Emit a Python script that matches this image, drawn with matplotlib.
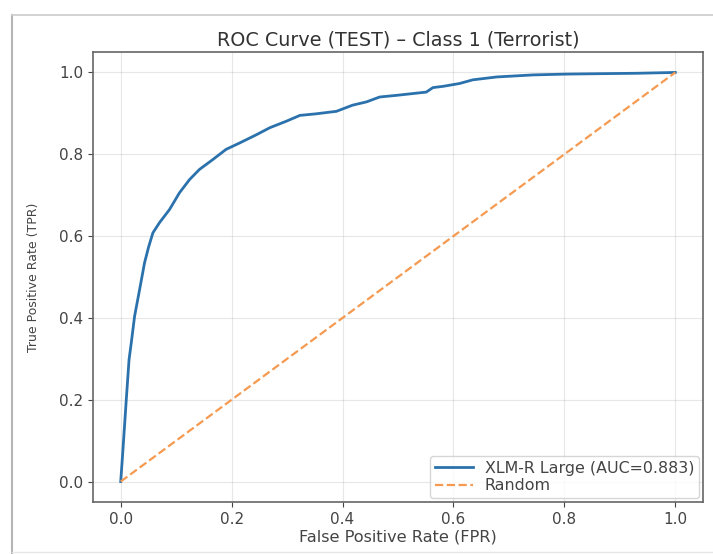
import matplotlib
matplotlib.use("Agg")
import matplotlib.pyplot as plt
from matplotlib.lines import Line2D

# ROC curve
fpr = [0.0, 0.004, 0.010, 0.015, 0.019, 0.025, 0.034, 0.043, 0.050, 0.058,
       0.070, 0.088, 0.106, 0.124, 0.142, 0.166, 0.190, 0.215, 0.245, 0.269,
       0.299, 0.323, 0.353, 0.389, 0.418, 0.443, 0.467, 0.497, 0.551, 0.563,
       0.581, 0.611, 0.635, 0.678, 0.744, 0.804, 0.864, 0.930, 1.0]
tpr = [0.0, 0.078, 0.200, 0.298, 0.339, 0.404, 0.469, 0.535, 0.572, 0.608,
       0.633, 0.665, 0.706, 0.738, 0.763, 0.787, 0.812, 0.828, 0.848, 0.865,
       0.881, 0.895, 0.899, 0.905, 0.920, 0.928, 0.940, 0.944, 0.952, 0.963,
       0.966, 0.973, 0.982, 0.989, 0.994, 0.996, 0.997, 0.998, 1.0]
auc = 0.883
ticks = [0.0, 0.2, 0.4, 0.6, 0.8, 1.0]

fig = plt.figure(figsize=(7.13, 5.54), dpi=100)
ax = fig.add_axes([93 / 713, 52 / 554, 610 / 713, 450 / 554])

ax.plot(fpr, tpr, color="#2b72ad", lw=2, label=f"XLM-R Large (AUC={auc:.3f})")
ax.plot([0, 1], [0, 1], color="#f59a50", lw=1.6, ls="--", label="Random")

ax.set_xticks(ticks)
ax.set_yticks(ticks)
ax.tick_params(labelsize=11, colors="#444444")
ax.grid(True, alpha=0.3)
for s in ax.spines.values():
    s.set_color("#666666")
    s.set_linewidth(1.2)

ax.set_title("ROC Curve (TEST) \u2013 Class 1 (Terrorist)", fontsize=13.8, color="#333333", pad=5)
ax.set_xlabel("False Positive Rate (FPR)", fontsize=11.6, color="#444444", labelpad=2)
ax.set_ylabel("True Positive Rate (TPR)", fontsize=9, color="#444444", labelpad=14)
ax.legend(loc="lower right", fontsize=11.4, labelspacing=0.15, borderpad=0.3,
          handlelength=2.4, handletextpad=0.75, borderaxespad=0.25,
          labelcolor="#444444")

# screenshot frame around the figure
fig.add_artist(Line2D([12 / 713, 12 / 713], [0, 1 - 15 / 554], color="#b5b5b5", lw=1.5))
fig.add_artist(Line2D([12 / 713, 1], [1 - 15 / 554, 1 - 15 / 554], color="#cccccc", lw=1.2))
fig.add_artist(Line2D([12 / 713, 1], [2 / 554, 2 / 554], color="#e6e6e6", lw=1.0))

fig.savefig("out.png", dpi=100)
